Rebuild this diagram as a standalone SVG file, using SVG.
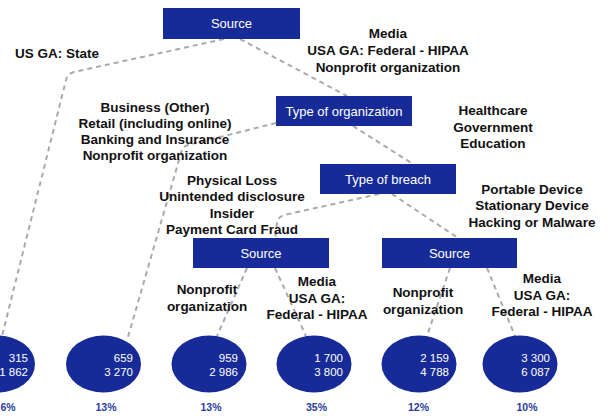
<svg xmlns="http://www.w3.org/2000/svg" width="610" height="416" viewBox="0 0 610 416">
<style>
.box{fill:#172b98;}
.ell{fill:#172b98;}
.bt{font-family:"Liberation Sans",Arial,sans-serif;font-size:13px;fill:#ffffff;text-anchor:middle;}
.lbl{font-family:"Liberation Sans",Arial,sans-serif;font-size:13.5px;font-weight:bold;fill:#111111;text-anchor:middle;}
.num{font-family:"Liberation Sans",Arial,sans-serif;font-size:11.5px;fill:#ffffff;text-anchor:end;}
.pct{font-family:"Liberation Sans",Arial,sans-serif;font-size:10.5px;font-weight:bold;fill:#2b3ca0;text-anchor:middle;}
.con{fill:none;stroke:#aaaaaa;stroke-width:2;stroke-dasharray:5,4;}
</style>
<rect width="610" height="416" fill="#ffffff"/>
<g id="connectors">
<path class="con" d="M224,39 L74,72 Q67,74 66,80 L2,336"/>
<path class="con" d="M240,39 L347,96"/>
<path class="con" d="M276,123 L188,145 Q182,147 181,153 L128,337"/>
<path class="con" d="M353,126 L413,164"/>
<path class="con" d="M388,192 L284,215 Q278,217 277,223 L275,238"/>
<path class="con" d="M392,194 L458,238"/>
<path class="con" d="M247,268 L217,336"/>
<path class="con" d="M275,268 L306,336"/>
<path class="con" d="M450,268 L427,336"/>
<path class="con" d="M487,268 L515,336"/>
</g>
<g id="source-top"><rect class="box" x="163" y="8" width="137" height="31"/><text class="bt" x="231.5" y="28">Source</text></g>
<g id="type-org"><rect class="box" x="276" y="96" width="136" height="30"/><text class="bt" x="344" y="115.5">Type of organization</text></g>
<g id="type-breach"><rect class="box" x="320" y="164" width="136" height="30"/><text class="bt" x="388" y="183.5">Type of breach</text></g>
<g id="source-left"><rect class="box" x="193" y="238" width="136" height="30"/><text class="bt" x="261" y="257.5">Source</text></g>
<g id="source-right"><rect class="box" x="382" y="238" width="135" height="30"/><text class="bt" x="449.5" y="257.5">Source</text></g>
<g id="labels">
<text class="lbl" x="57" y="58">US GA: State</text>
<text class="lbl" x="388"><tspan x="388" y="38">Media</tspan><tspan x="388" y="55">USA GA: Federal - HIPAA</tspan><tspan x="388" y="72">Nonprofit organization</tspan></text>
<text class="lbl" x="155"><tspan x="155" y="112">Business (Other)</tspan><tspan x="155" y="128">Retail (including online)</tspan><tspan x="155" y="144">Banking and Insurance</tspan><tspan x="155" y="160">Nonprofit organization</tspan></text>
<text class="lbl" x="493"><tspan x="493" y="115">Healthcare</tspan><tspan x="493" y="131.5">Government</tspan><tspan x="493" y="148">Education</tspan></text>
<text class="lbl" x="232"><tspan x="232" y="185">Physical Loss</tspan><tspan x="232" y="201">Unintended disclosure</tspan><tspan x="232" y="217.5">Insider</tspan><tspan x="232" y="234">Payment Card Fraud</tspan></text>
<text class="lbl" x="532"><tspan x="532" y="194">Portable Device</tspan><tspan x="532" y="210">Stationary Device</tspan><tspan x="532" y="226.5">Hacking or Malware</tspan></text>
<text class="lbl" x="207"><tspan x="207" y="294">Nonprofit</tspan><tspan x="207" y="310.5">organization</tspan></text>
<text class="lbl" x="317"><tspan x="317" y="286">Media</tspan><tspan x="317" y="302.5">USA GA:</tspan><tspan x="317" y="319">Federal - HIPAA</tspan></text>
<text class="lbl" x="423"><tspan x="423" y="297">Nonprofit</tspan><tspan x="423" y="313.5">organization</tspan></text>
<text class="lbl" x="542"><tspan x="542" y="283">Media</tspan><tspan x="542" y="299.5">USA GA:</tspan><tspan x="542" y="316">Federal - HIPAA</tspan></text>
</g>
<g id="leaf1"><ellipse class="ell" cx="-2.5" cy="364" rx="37.5" ry="28.5"/><text class="num" x="28" y="362">315</text><text class="num" x="28" y="376">1 862</text><text class="pct" x="0.5" y="411" style="text-anchor:start">6%</text></g>
<g id="leaf2"><ellipse class="ell" cx="103.5" cy="364" rx="37.5" ry="28.5"/><text class="num" x="133" y="362">659</text><text class="num" x="133" y="376">3 270</text><text class="pct" x="106" y="411">13%</text></g>
<g id="leaf3"><ellipse class="ell" cx="209" cy="364" rx="37.5" ry="28.5"/><text class="num" x="238" y="362">959</text><text class="num" x="238" y="376">2 986</text><text class="pct" x="211" y="411">13%</text></g>
<g id="leaf4"><ellipse class="ell" cx="314" cy="364" rx="37.5" ry="28.5"/><text class="num" x="343" y="362">1 700</text><text class="num" x="343" y="376">3 800</text><text class="pct" x="316.5" y="411">35%</text></g>
<g id="leaf5"><ellipse class="ell" cx="419" cy="364" rx="37.5" ry="28.5"/><text class="num" x="449" y="362">2 159</text><text class="num" x="449" y="376">4 788</text><text class="pct" x="418.5" y="411">12%</text></g>
<g id="leaf6"><ellipse class="ell" cx="520" cy="364" rx="37.5" ry="28.5"/><text class="num" x="550" y="362">3 300</text><text class="num" x="550" y="376">6 087</text><text class="pct" x="527" y="411">10%</text></g>
</svg>
